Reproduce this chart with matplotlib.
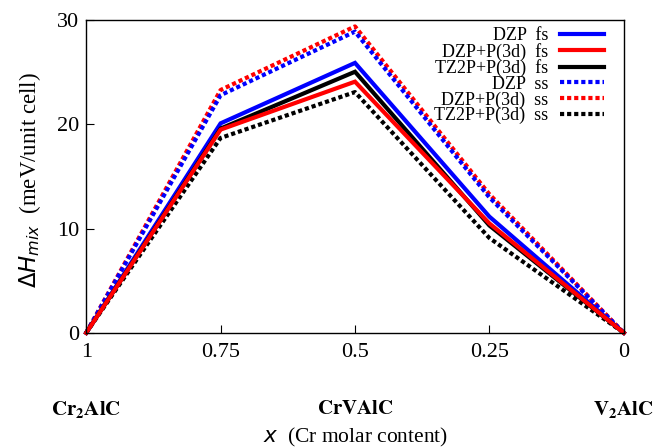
import matplotlib
matplotlib.use("Agg")
import matplotlib.pyplot as plt

x = [1, 0.75, 0.5, 0.25, 0]
dzp_fs = [0, 20.1, 25.9, 11.15, 0]
dzpp_fs = [0, 19.5, 24.1, 10.5, 0]
tz2p_fs = [0, 19.6, 25.05, 10.3, 0]
dzp_ss = [0, 22.8, 28.9, 13.0, 0]
dzpp_ss = [0, 23.3, 29.4, 13.3, 0]
tz2p_ss = [0, 18.7, 23.1, 9.1, 0]

series = [
    ("DZP  fs", dzp_fs, "#0000ff", "-"),
    ("DZP+P(3d)  fs", dzpp_fs, "#ff0000", "-"),
    ("TZ2P+P(3d)  fs", tz2p_fs, "#000000", "-"),
    ("DZP  ss", dzp_ss, "#0000ff", (0, (1, 0.7))),
    ("DZP+P(3d)  ss", dzpp_ss, "#ff0000", (0, (1, 0.7))),
    ("TZ2P+P(3d)  ss", tz2p_ss, "#000000", (0, (1, 0.7))),
]

xticks = [1, 0.75, 0.5, 0.25, 0]
xticklabels = ["1", "0.75", "0.5", "0.25", "0"]
yticks = [0, 10, 20, 30]
compounds = [(1, r"$\mathbf{Cr_2AlC}$"), (0.5, r"$\mathbf{CrVAlC}$"), (0, r"$\mathbf{V_2AlC}$")]

plt.rcParams["font.family"] = ["Liberation Serif", "DejaVu Serif"]
plt.rcParams["mathtext.fontset"] = "dejavusans"

fig = plt.figure(figsize=(6.58, 4.48), dpi=100)
ax = fig.add_axes([0.131, 0.257, 0.817, 0.698])

order = [4, 3, 5, 0, 2, 1]
handles = {}
for i in order:
    lab, vals, col, ls = series[i]
    h, = ax.plot(x, vals, color=col, linestyle=ls, lw=3, label=lab,
                 solid_joinstyle="miter", clip_on=False)
    handles[i] = h

ax.set_xlim(1, 0)
ax.set_ylim(0, 30)
ax.set_xticks(xticks)
ax.set_xticklabels(xticklabels)
ax.set_yticks(yticks)
ax.tick_params(direction="in", labelsize=16, length=6, width=0.8)
ax.tick_params(axis="x", pad=7)
ax.tick_params(axis="y", pad=5)
for s in ax.spines.values():
    s.set_linewidth(1.0)

leg = ax.legend([handles[i] for i in range(6)], [series[i][0] for i in range(6)],
                loc="upper right", frameon=False, fontsize=13, markerfirst=False,
                handlelength=2.4, labelspacing=-0.08, borderaxespad=0.3,
                handletextpad=0.65, bbox_to_anchor=(0.986, 1.018))
leg._legend_box.align = "right"

for xv, lab in compounds:
    xa = ax.transData.transform((xv, 0))[0]
    xf = fig.transFigure.inverted().transform((xa, 0))[0]
    fig.text(xf, 1 - 409 / 448, lab, ha="center", va="center",
             fontsize=15, math_fontfamily="stix")

fig.text(0.54, 1 - 437 / 448, r"$x$  (Cr molar content)", ha="center", va="center",
         fontsize=15.5)
fig.text(0.046, 1 - 180 / 448, r"$\Delta H_{mix}$  (meV/unit cell)", ha="center",
         va="center", rotation=90, fontsize=16.5)

fig.savefig("out.png", dpi=100)
